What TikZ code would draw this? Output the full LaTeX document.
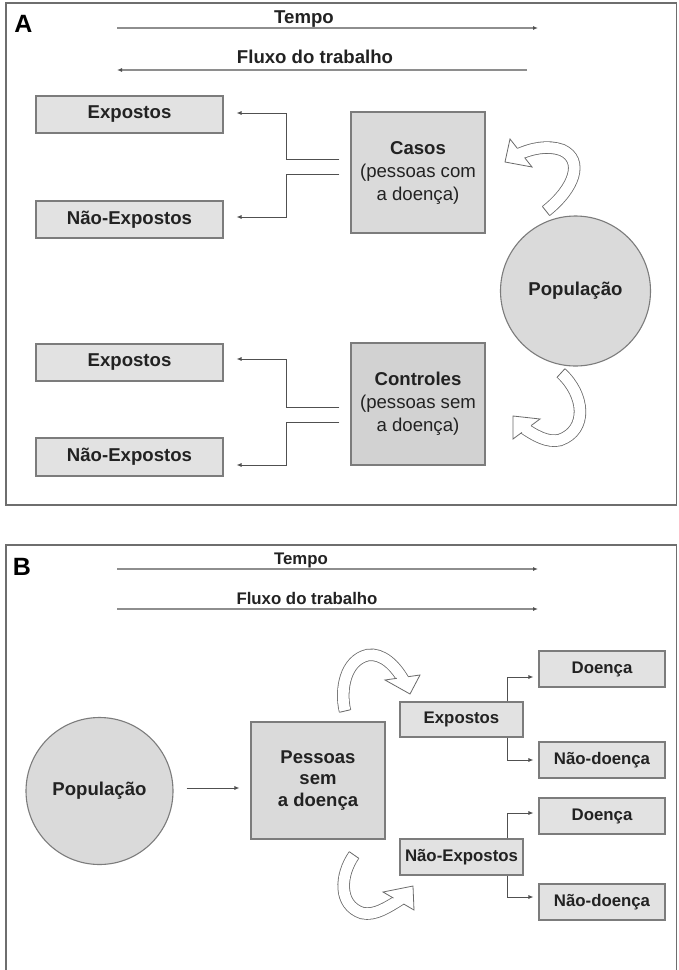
\documentclass[tikz,border=0pt]{standalone}
\usepackage{fontspec}
\setmainfont{Liberation Sans}
\usetikzlibrary{arrows.meta,calc}
\definecolor{boxfill}{HTML}{E2E2E2}
\definecolor{boxmid}{HTML}{DADADA}
\definecolor{boxdark}{HTML}{D2D2D2}
\definecolor{boxedge}{HTML}{7C7C7C}
\definecolor{lineg}{HTML}{505050}
\definecolor{timeg}{HTML}{8E8E8E}
\definecolor{frameg}{HTML}{6E6E6E}
\definecolor{txt}{HTML}{222222}
\definecolor{bandg}{HTML}{6A6A6A}
\newcommand{\bandhead}[3]{%
  \coordinate (hm) at ($(#1)!0.5!(#3)$);
  \fill[white] (#1) -- (#2) -- (#3) -- cycle;
  \draw[bandedge] ($(hm)!5.8pt!(#1)$) -- (#1) -- (#2) -- (#3) -- ($(hm)!5.8pt!(#3)$);
}
\newcommand{\bandtail}[2]{%
  \draw[bandedge] ($(#1)!5.8pt!90:(#2)$) -- ($(#1)!5.8pt!-90:(#2)$);
}
\begin{document}
\begin{tikzpicture}[x=1pt,y=-1pt,
  rbox/.style={draw=boxedge, fill=boxfill, line width=1.1pt, inner sep=0pt, text=txt},
  lblA/.style={font=\fontsize{18.6}{22}\selectfont\bfseries},
  lblB/.style={font=\fontsize{16.8}{20}\selectfont\bfseries},
  circ/.style={circle, draw=boxedge, fill=boxmid, line width=1.1pt, inner sep=0pt, text=txt, font=\fontsize{18.6}{22}\selectfont\bfseries},
  conn/.style={draw=lineg, line width=0.8pt, -{Latex[length=5pt,width=4pt]}},
  timearr/.style={draw=timeg, line width=1.3pt, -{Latex[length=5pt,width=4pt,color=lineg]}},
  frame/.style={draw=frameg, line width=1.8pt},
  band/.style={draw=bandg, line width=0.8pt, double=white, double distance=10.8pt},
  bandedge/.style={draw=bandg, line width=0.8pt, line join=miter},
  ttl/.style={text=txt, font=\fontsize{18.6}{22}\selectfont\bfseries, anchor=base},
  ttlB/.style={text=txt, font=\fontsize{16.8}{20}\selectfont\bfseries, anchor=base},
  letter/.style={text=black, font=\fontsize{25}{28}\selectfont\bfseries}
]
\useasboundingbox (0,0) rectangle (679,970);
\fill[white] (0,0) rectangle (679,970);

% ---------- Panel A ----------
\draw[frame] (6,3) rectangle (676.5,505);
\node[letter] (la) at (23.5,23.5) {A};
\node[ttl] (tempoA) at (304,23) {Tempo};
\coordinate (tA1) at (117,28); \coordinate (tA2) at (538,28);
\draw[timearr] (tA1) -- (tA2);
\node[ttl] (fluxoA) at (315,63) {Fluxo do trabalho};
\coordinate (fA1) at (527,70); \coordinate (fA2) at (117,70);
\draw[timearr] (fA1) -- (fA2);

\node[rbox, lblA, minimum width=187pt, minimum height=37pt] (expA1) at (129.5,114.5) {Expostos};
\node[rbox, lblA, minimum width=187pt, minimum height=37pt] (neA1) at (129.5,219.5) {Não-Expostos};
\node[rbox, fill=boxmid, minimum width=134pt, minimum height=121pt, align=center,
      font=\fontsize{18.6}{23}\selectfont] (casos) at (418,172.5)
      {\textbf{Casos}\\(pessoas com\\a doença)};
\node[rbox, lblA, minimum width=187pt, minimum height=37pt] (expA2) at (129.5,362.5) {Expostos};
\node[rbox, lblA, minimum width=187pt, minimum height=38pt] (neA2) at (129.5,457) {Não-Expostos};
\node[rbox, fill=boxdark, minimum width=134pt, minimum height=122pt, align=center,
      font=\fontsize{18.6}{23}\selectfont] (ctrl) at (418,404)
      {\textbf{Controles}\\(pessoas sem\\a doença)};
\node[circ, minimum size=150pt] (popA) at (575.5,291) {População};

\draw[conn, shorten <=11pt, shorten >=13pt] (casos.west |- 0,159) -- ++(-64,0) |- (expA1.east |- 0,113);
\draw[conn, shorten <=11pt, shorten >=13pt] (casos.west |- 0,174) -- ++(-64,0) |- (neA1.east |- 0,217);
\draw[conn, shorten <=11pt, shorten >=13pt] (ctrl.west |- 0,407) -- ++(-64,0) |- (expA2.east |- 0,359);
\draw[conn, shorten <=11pt, shorten >=13pt] (ctrl.west |- 0,422) -- ++(-64,0) |- (neA2.east |- 0,465);

% curved arrow A upper (population -> casos)
\coordinate (auT) at (546,211); \coordinate (auC1) at (575,188);
\draw[band] (auT) .. controls (auC1) and (584,160) .. (562,150)
            .. controls (548,145) and (532,148) .. (517,155);
\bandtail{auT}{auC1}
\coordinate (aub1) at (510,139); \coordinate (aut) at (505,162); \coordinate (aub2) at (532,167);
\bandhead{aub1}{aut}{aub2}

% curved arrow A lower (population -> controles)
\coordinate (alT) at (561,373); \coordinate (alC1) at (585,395);
\draw[band] (alT) .. controls (alC1) and (588,430) .. (560,440)
            .. controls (548,443) and (535,436) .. (521,426);
\bandtail{alT}{alC1}
\coordinate (alb1) at (540,419); \coordinate (alt) at (513,416); \coordinate (alb2) at (513,439);
\bandhead{alb1}{alt}{alb2}

% ---------- Panel B ----------
\draw[frame] (6,985) -- (6,545) -- (676.5,545) -- (676.5,985);
\node[letter] (lb) at (22,567) {B};
\node[ttlB] (tempoB) at (301,564) {Tempo};
\coordinate (tB1) at (117,569); \coordinate (tB2) at (538,569);
\draw[timearr] (tB1) -- (tB2);
\node[ttlB] (fluxoB) at (307,604) {Fluxo do trabalho};
\coordinate (fB1) at (117,609); \coordinate (fB2) at (538,609);
\draw[timearr] (fB1) -- (fB2);

\node[circ, minimum size=147pt] (popB) at (99.5,791) {População};
\node[rbox, fill=boxmid, minimum width=134pt, minimum height=117pt, align=center,
      font=\fontsize{18.5}{21.5}\selectfont\bfseries] (pess) at (318,780.5)
      {Pessoas\\sem\\a doença};
\node[rbox, lblB, minimum width=123pt, minimum height=35pt] (expB) at (461.5,719.5) {Expostos};
\node[rbox, lblB, minimum width=123pt, minimum height=36pt] (neB) at (461.5,857) {Não-Expostos};
\node[rbox, lblB, minimum width=126pt, minimum height=36pt] (d1) at (602,669) {Doença};
\node[rbox, lblB, minimum width=126pt, minimum height=36pt] (nd1) at (602,760) {Não-doença};
\node[rbox, lblB, minimum width=126pt, minimum height=36pt] (d2) at (602,816) {Doença};
\node[rbox, lblB, minimum width=126pt, minimum height=36pt] (nd2) at (602,902) {Não-doença};

\draw[conn, shorten <=13pt, shorten >=11pt] (popB.east |- 0,788) -- (pess.west |- 0,788);
\draw[conn, shorten >=5pt] ([xshift=45.5pt]expB.north) |- (d1.west |- 0,677);
\draw[conn, shorten >=5pt] ([xshift=45.5pt]expB.south) |- (nd1.west |- 0,760);
\draw[conn, shorten >=5pt] ([xshift=45.5pt]neB.north) |- (d2.west |- 0,813);
\draw[conn, shorten >=5pt] ([xshift=45.5pt]neB.south) |- (nd2.west |- 0,897);

% curved arrow B upper (pessoas -> expostos)
\coordinate (buT) at (345,711); \coordinate (buC1) at (340,690);
\draw[band] (buT) .. controls (buC1) and (345,660) .. (368,655)
            .. controls (382,653) and (395,665) .. (404,681);
\bandtail{buT}{buC1}
\coordinate (bub1) at (385,680); \coordinate (but) at (410,694); \coordinate (bub2) at (420,675);
\bandhead{bub1}{but}{bub2}

% curved arrow B lower (pessoas -> nao-expostos)
\coordinate (blT) at (354,855); \coordinate (blC1) at (340,875);
\draw[band] (blT) .. controls (blC1) and (338,905) .. (362,913)
            .. controls (375,916) and (388,907) .. (401,899);
\bandtail{blT}{blC1}
\coordinate (blb1) at (383,892); \coordinate (blt) at (413,886); \coordinate (blb2) at (414,910);
\bandhead{blb1}{blt}{blb2}
\end{tikzpicture}
\end{document}
